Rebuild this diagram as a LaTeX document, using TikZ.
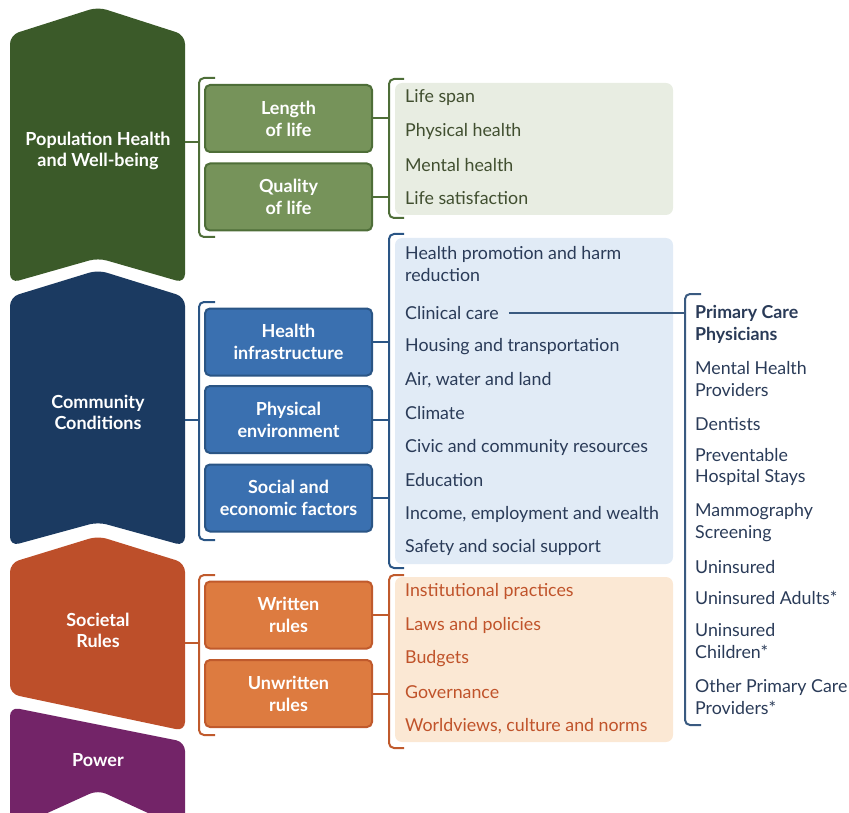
\documentclass[tikz,border=0pt]{standalone}
\usepackage{fontspec}
\setmainfont{Lato}
\definecolor{gdark}{HTML}{3B5A29}
\definecolor{gbox}{HTML}{76935A}
\definecolor{gline}{HTML}{4E6E38}
\definecolor{gfill}{HTML}{E8EDE2}
\definecolor{gtext}{HTML}{414F30}
\definecolor{bdark}{HTML}{1B3A61}
\definecolor{bbox}{HTML}{3A70B0}
\definecolor{bline}{HTML}{2A5585}
\definecolor{bfill}{HTML}{E1EBF6}
\definecolor{btext}{HTML}{2A3B58}
\definecolor{odark}{HTML}{BD4F2A}
\definecolor{obox}{HTML}{DD7B40}
\definecolor{oline}{HTML}{C05A2C}
\definecolor{ofill}{HTML}{FBE8D4}
\definecolor{otext}{HTML}{C0532A}
\definecolor{pdark}{HTML}{732468}
\definecolor{rline}{HTML}{3A5A80}
\tikzset{
  chev/.style={rounded corners=9pt},
  chevtext/.style={text=white,font=\fontsize{18}{21}\selectfont\bfseries,align=center},
  catbox/.style={draw=#1,line width=2pt,rounded corners=5pt,minimum width=167pt,minimum height=67pt,text=white,font=\fontsize{18}{22}\selectfont\bfseries,align=center,inner sep=0pt},
  item/.style={anchor=west,inner sep=0pt,font=\fontsize{17.8}{21.5}\selectfont,align=left,text=#1},
  brk/.style={draw=#1,line width=2pt,rounded corners=5pt},
  conn/.style={draw=#1,line width=2pt},
  panel/.style={fill=#1,rounded corners=7pt}
}
\begin{document}
\begin{tikzpicture}[x=1pt,y=-1pt]
\useasboundingbox (0,0) rectangle (849,813);
% chevrons
\fill[gdark,chev] (10,35) -- (98,7) -- (185,35) -- (185,283) -- (98,258) -- (10,283) -- cycle;
\fill[bdark,chev] (10,297) -- (98,270) -- (185,297) -- (185,546) -- (98,522) -- (10,546) -- cycle;
\fill[odark,chev] (10,563) -- (98,536) -- (185,563) -- (185,731) -- (10,694) -- cycle;
\fill[pdark,chev] (10,707) -- (185,742) -- (185,830) -- (98,790) -- (10,830) -- cycle;
\node[chevtext] (phw) at (98,151) {Population Health\\and Well-being};
\node[chevtext] (cc) at (98,412) {Community\\Conditions};
\node[chevtext] (sr) at (98,630) {Societal\\Rules};
\node[chevtext] (pw) at (98,760) {Power};
\coordinate (gce) at (185,142);
\coordinate (bce) at (185,420);
\coordinate (oce) at (185,643);

% panels
\fill[panel=gfill] (395,83) rectangle (673,215);
\fill[panel=bfill] (395,238) rectangle (673,564);
\fill[panel=ofill] (395,577) rectangle (673,742);

% green section
\node[catbox=gline,fill=gbox] (len) at (288.5,118.5) {Length\\of life};
\node[catbox=gline,fill=gbox] (qual) at (288.5,197) {Quality\\of life};
\path[brk=gline] (215,78) -- (199,78) -- (199,237) -- (215,237);
\coordinate (gbl) at (199,142);
\draw[conn=gline] (gce) -- (gbl);
\path[brk=gline] (404,79) -- (389,79) -- (389,218) -- (404,218);
\coordinate (gr1) at (389,118.5);
\coordinate (gr2) at (389,197);
\draw[conn=gline] (len.east) -- (gr1);
\draw[conn=gline] (qual.east) -- (gr2);
\node[item=gtext] (g1) at (405,98) {Life span};
\node[item=gtext] (g2) at (405,131) {Physical health};
\node[item=gtext] (g3) at (405,165) {Mental health};
\node[item=gtext] (g4) at (405,198) {Life satisfaction};

% blue section
\node[catbox=bline,fill=bbox] (hi) at (288.5,342) {Health\\infrastructure};
\node[catbox=bline,fill=bbox] (pe) at (288.5,419.5) {Physical\\environment};
\node[catbox=bline,fill=bbox] (se) at (288.5,498) {Social and\\economic factors};
\path[brk=bline] (215,302) -- (199,302) -- (199,540) -- (215,540);
\coordinate (bbl) at (199,420);
\draw[conn=bline] (bce) -- (bbl);
\path[brk=bline] (404,234) -- (389,234) -- (389,568) -- (404,568);
\coordinate (br1) at (389,342);
\coordinate (br2) at (389,419.5);
\coordinate (br3) at (389,498);
\draw[conn=bline] (hi.east) -- (br1);
\draw[conn=bline] (pe.east) -- (br2);
\draw[conn=bline] (se.east) -- (br3);
\node[item=btext] (b1) at (405,264) {Health promotion and harm\\reduction};
\node[item=btext] (b2) at (405,313) {Clinical care};
\node[item=btext] (b3) at (405,347) {Housing and transportation};
\node[item=btext] (b4) at (405,380) {Air, water and land};
\node[item=btext] (b5) at (405,413) {Climate};
\node[item=btext] (b6) at (405,447) {Civic and community resources};
\node[item=btext] (b7) at (405,480) {Education};
\node[item=btext] (b8) at (405,514) {Income, employment and wealth};
\node[item=btext] (b9) at (405,547) {Safety and social support};

% right list
\path[brk=rline] (701,294) -- (685,294) -- (685,725) -- (701,725);
\coordinate (rb) at (685,313);
\draw[conn=rline] ([xshift=10pt]b2.east) -- (rb);
\node[item=btext,font=\fontsize{17.8}{21.5}\selectfont\bfseries] (r1) at (695,324.5) {Primary Care\\Physicians};
\node[item=btext] (r2) at (695,379) {Mental Health\\Providers};
\node[item=btext] (r3) at (695,424) {Dentists};
\node[item=btext] (r4) at (695,467) {Preventable\\Hospital Stays};
\node[item=btext] (r5) at (695,522.5) {Mammography\\Screening};
\node[item=btext] (r6) at (695,567) {Uninsured};
\node[item=btext] (r7) at (695,598) {Uninsured Adults*};
\node[item=btext] (r8) at (695,641) {Uninsured\\Children*};
\node[item=btext] (r9) at (695,697) {Other Primary Care\\Providers*};

% orange section
\node[catbox=oline,fill=obox] (wr) at (288.5,615) {Written\\rules};
\node[catbox=oline,fill=obox] (ur) at (288.5,693.5) {Unwritten\\rules};
\path[brk=oline] (215,575) -- (199,575) -- (199,735) -- (215,735);
\coordinate (obl) at (199,643);
\draw[conn=oline] (oce) -- (obl);
\path[brk=oline] (404,575) -- (389,575) -- (389,748) -- (404,748);
\coordinate (or1) at (389,615);
\coordinate (or2) at (389,693.5);
\draw[conn=oline] (wr.east) -- (or1);
\draw[conn=oline] (ur.east) -- (or2);
\node[item=otext] (o1) at (405,591) {Institutional practices};
\node[item=otext] (o2) at (405,625) {Laws and policies};
\node[item=otext] (o3) at (405,659) {Budgets};
\node[item=otext] (o4) at (405,692) {Governance};
\node[item=otext] (o5) at (405,726) {Worldviews, culture and norms};
\end{tikzpicture}
\end{document}
